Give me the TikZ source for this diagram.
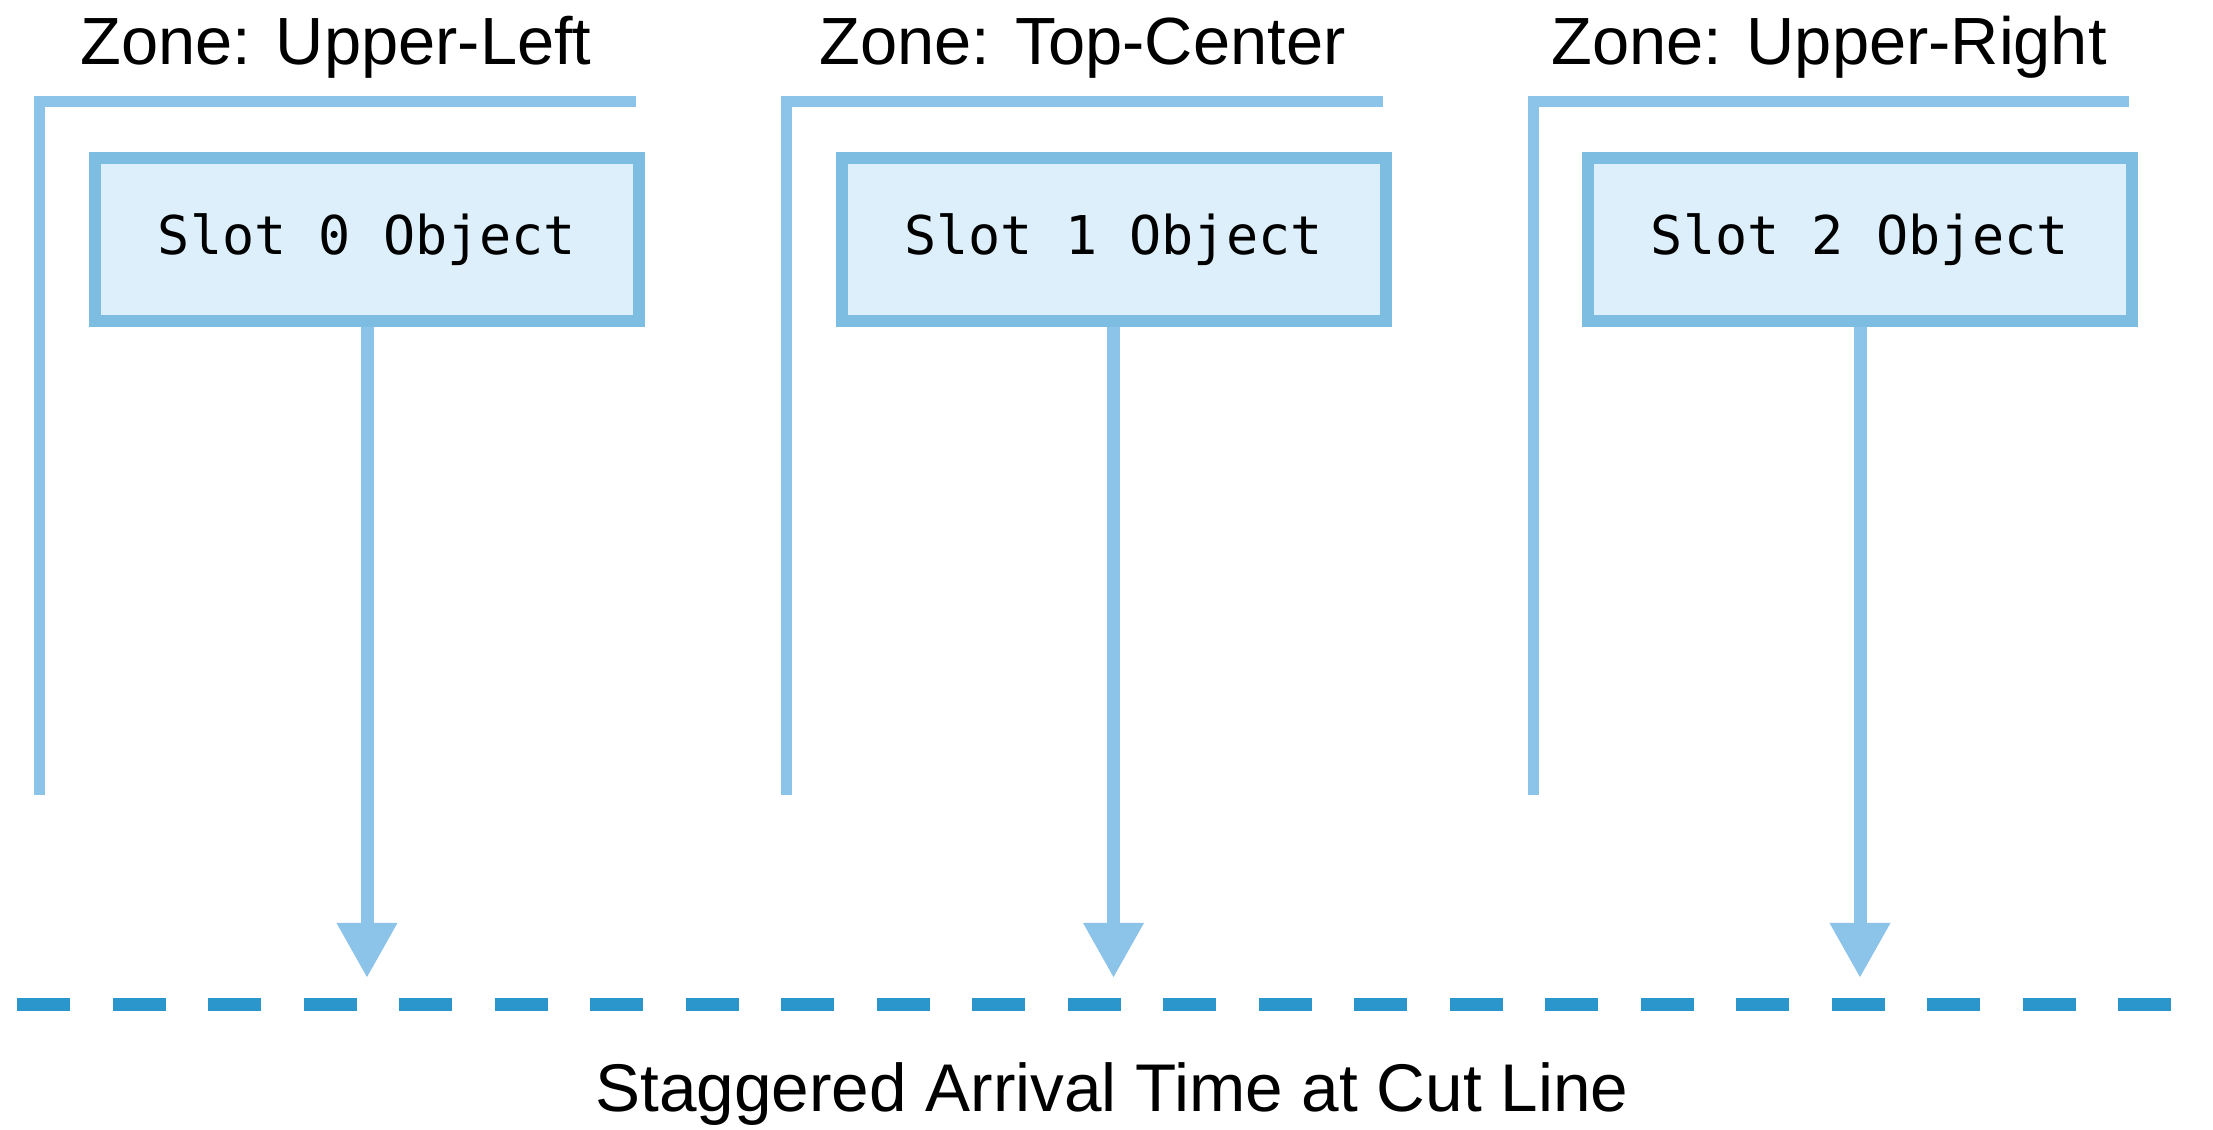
\documentclass[tikz,border=0pt]{standalone}
\usepackage{fontspec}
\setmainfont{Liberation Sans}
\setmonofont{DejaVu Sans Mono}
\usetikzlibrary{arrows.meta}

\definecolor{zoneblue}{HTML}{8CC3E9}
\definecolor{boxedge}{HTML}{7DBDE2}
\definecolor{boxfill}{HTML}{DDEFFA}
\definecolor{cutblue}{HTML}{2A96CC}

\begin{document}
\begin{tikzpicture}[
    zoneline/.style={draw=zoneblue, line width=0.11cm},
    slotbox/.style={draw=boxedge, fill=boxfill, line width=0.12cm,
        minimum width=5.44cm, minimum height=1.63cm,
        font=\ttfamily\fontsize{15.2}{18}\selectfont},
    zonetitle/.style={anchor=base, font=\fontsize{19}{23}\selectfont},
    drop/.style={draw=zoneblue, line width=0.13cm,
        -{Triangle[width=0.57cm,length=0.55cm]}},
    cutline/.style={draw=cutblue, line width=0.13cm,
        dash pattern=on 0.53cm off 0.425cm}
]
\useasboundingbox (0,0) rectangle (22.13,11.30);
\foreach \c/\zone in {0/Upper-Left,1/Top-Center,2/Upper-Right} {
    \draw[zoneline] (7.465*\c+0.40,3.35) |- (7.465*\c+6.36,10.28);
    \node[zonetitle] (zone\c) at (7.465*\c+3.36,10.65) {Zone: \zone};
    \node[slotbox] (slot\c) at (7.465*\c+3.67,8.905) {Slot \c{} Object};
    \coordinate (hit\c) at (7.465*\c+3.67,1.52);
    \draw[drop] (slot\c) -- (hit\c);
}
\coordinate (cutL) at (0.17,1.25);
\coordinate (cutR) at (22.13,1.25);
\draw[cutline] (cutL) -- (cutR);
\node[anchor=base, font=\fontsize{19.2}{23}\selectfont] (cutlabel) at (11.12,0.18)
    {Staggered Arrival Time at Cut Line};
\end{tikzpicture}
\end{document}
